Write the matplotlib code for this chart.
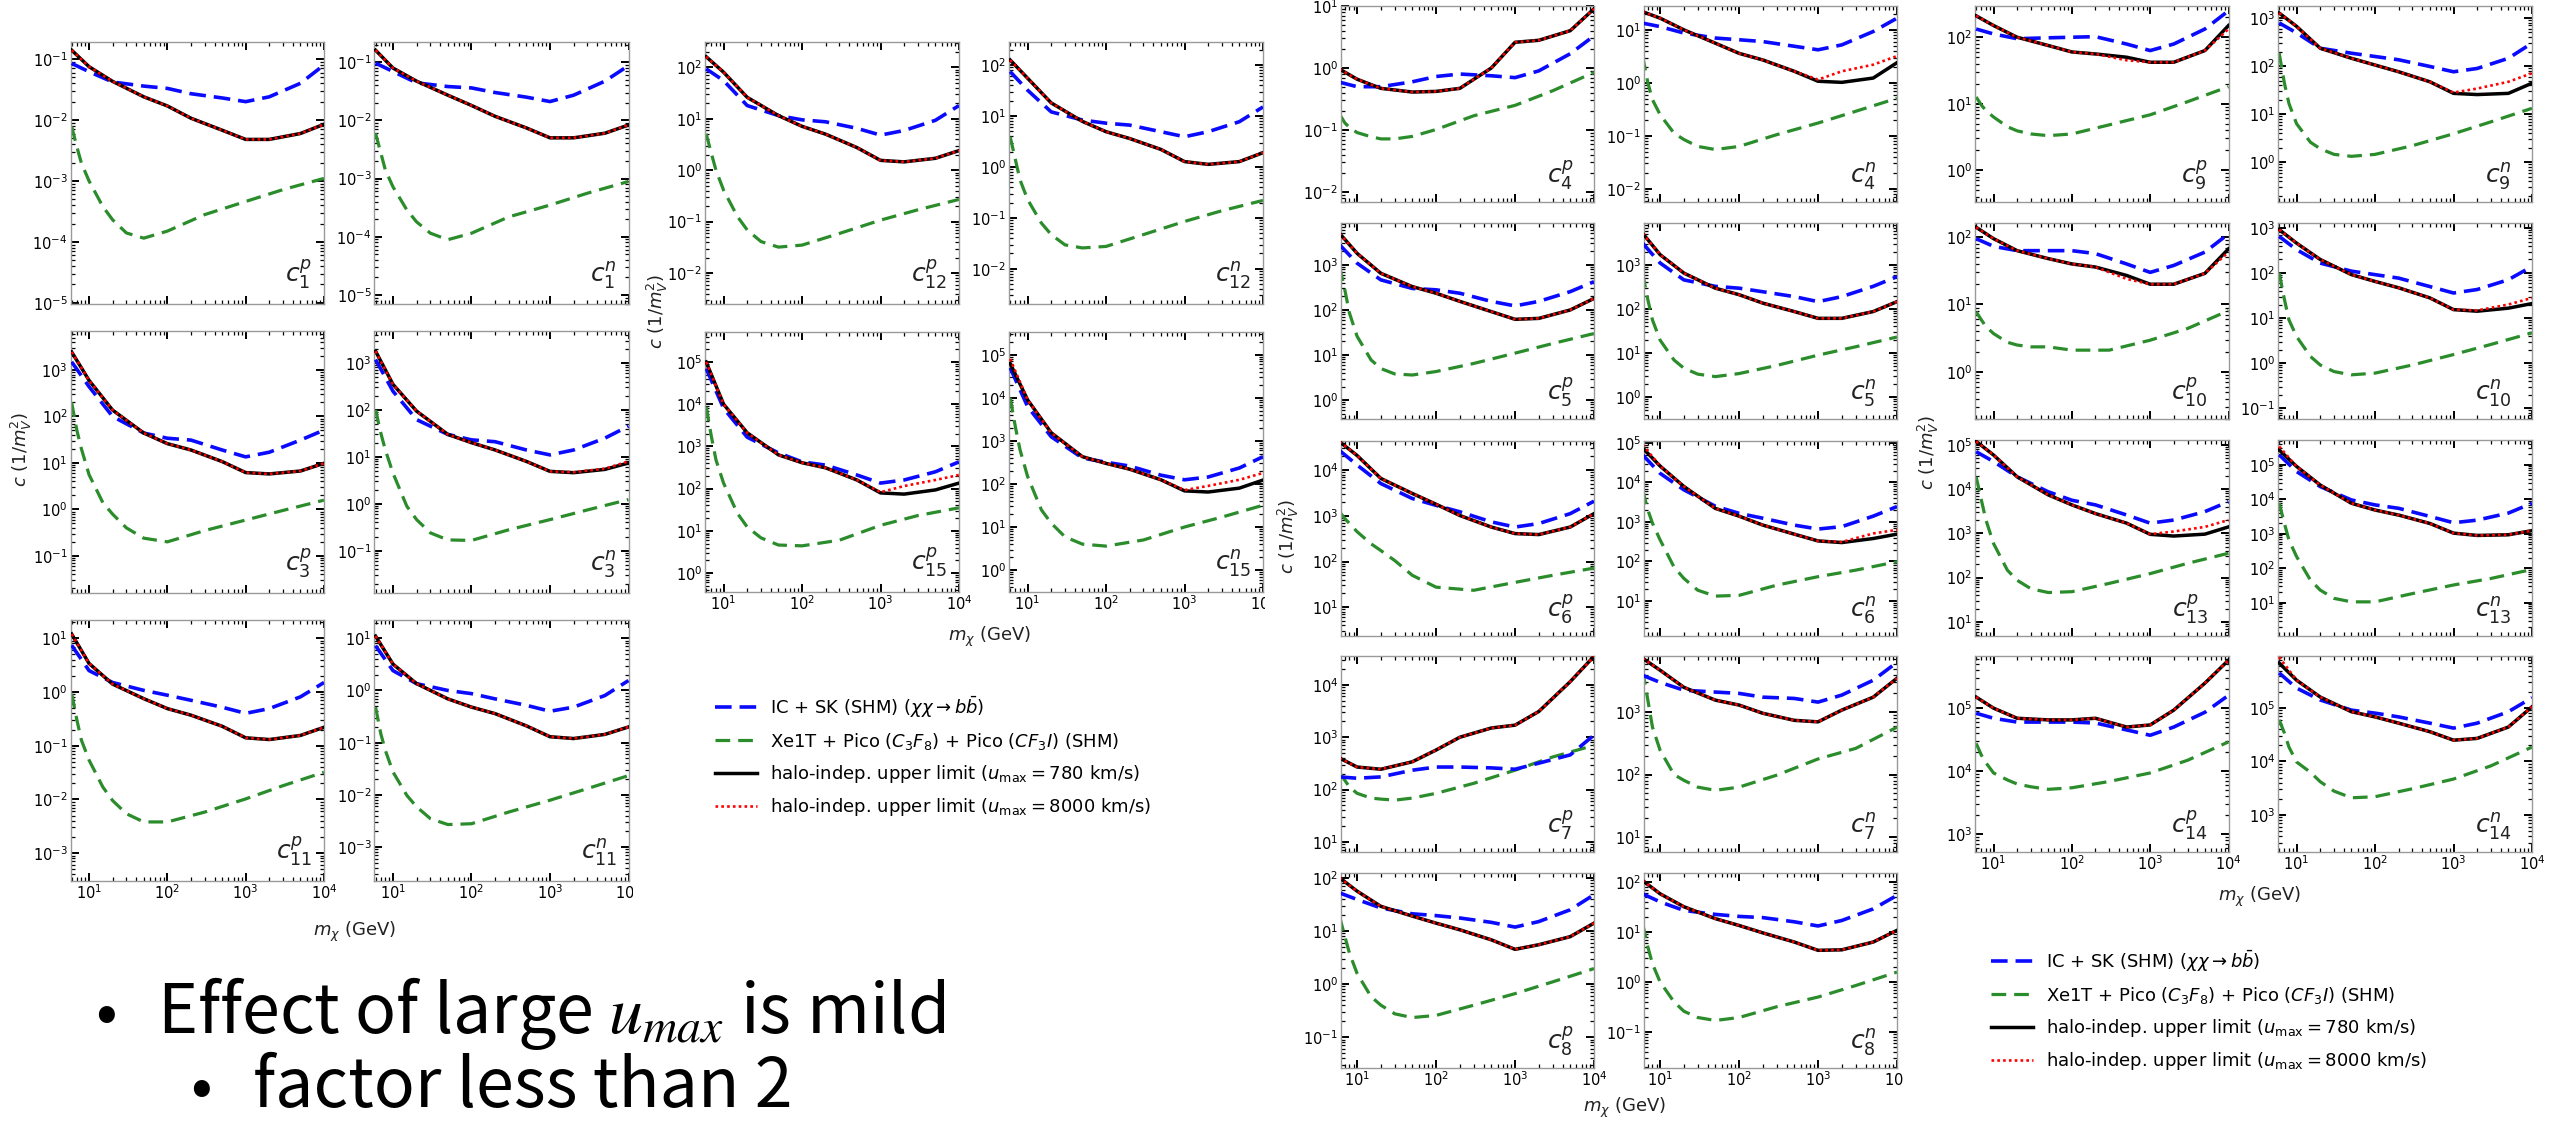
import numpy as np
import matplotlib
matplotlib.use("Agg")
import matplotlib.pyplot as plt
from matplotlib.ticker import LogLocator, NullFormatter, LogFormatterSciNotation
from matplotlib.patches import Rectangle

# ---------------- data ----------------
MASS = [6, 10, 20, 50, 100, 200, 500, 1000, 2000, 5000, 10000]
MASS_XE = [6, 7, 8, 10, 15, 20, 30, 50, 100, 300, 1000, 3000, 10000]

c1p_ic = [0.085, 0.062, 0.042, 0.036, 0.033, 0.027, 0.023, 0.020, 0.024, 0.040, 0.080]
c1p_xe = [7.8e-3, 3.6e-3, 1.95e-3, 1.0e-3, 3.8e-4, 2.3e-4, 1.4e-4, 1.15e-4, 1.5e-4, 2.8e-4, 4.6e-4, 7.2e-4, 1.1e-3]
c1p_hi = [0.14, 0.075, 0.043, 0.024, 0.017, 0.0107, 0.0068, 0.0048, 0.0048, 0.006, 0.0085]
c1p_hi8 = c1p_hi

c1n_ic = [0.096, 0.069, 0.044, 0.038, 0.036, 0.030, 0.025, 0.021, 0.027, 0.047, 0.087]
c1n_xe = [6.0e-3, 2.75e-3, 1.4e-3, 7.2e-4, 2.9e-4, 1.8e-4, 1.15e-4, 8.9e-5, 1.15e-4, 2.2e-4, 3.5e-4, 5.6e-4, 8.9e-4]
c1n_hi = [0.16, 0.079, 0.047, 0.027, 0.018, 0.0117, 0.0074, 0.005, 0.005, 0.006, 0.0083]
c1n_hi8 = c1n_hi

c3p_ic = [1500, 440, 100, 44, 34, 31, 19, 13.5, 17, 31, 51]
c3p_xe = [200, 50, 20, 5.6, 1.4, 0.79, 0.4, 0.24, 0.2, 0.35, 0.59, 0.95, 1.58]
c3p_hi = [2450, 600, 137, 44, 26, 19, 10.7, 6.2, 5.8, 6.7, 9.8]
c3p_hi8 = c3p_hi

c3n_ic = [1180, 250, 62, 30, 23, 21, 14, 11, 14, 25, 45]
c3n_xe = [100, 32, 14, 4.5, 0.89, 0.46, 0.24, 0.17, 0.166, 0.28, 0.46, 0.74, 1.23]
c3n_hi = [1780, 350, 94, 30, 20, 14, 8, 4.9, 4.6, 5.4, 7.4]
c3n_hi8 = [1780, 350, 94, 30, 20, 14, 8, 4.9, 4.7, 5.6, 8.0]

c11p_ic = [7.4, 2.5, 1.5, 1.07, 0.87, 0.7, 0.52, 0.4, 0.49, 0.81, 1.5]
c11p_xe = [0.93, 0.3, 0.126, 0.054, 0.017, 9.5e-3, 5.4e-3, 3.8e-3, 3.8e-3, 5.8e-3, 0.0102, 0.018, 0.032]
c11p_hi = [12, 3.4, 1.4, 0.75, 0.49, 0.37, 0.23, 0.14, 0.13, 0.155, 0.22]
c11p_hi8 = c11p_hi

c11n_ic = [7.2, 2.4, 1.35, 1.0, 0.87, 0.69, 0.52, 0.4, 0.48, 0.8, 1.55]
c11n_xe = [0.48, 0.148, 0.071, 0.0275, 9.8e-3, 5.9e-3, 3.5e-3, 2.7e-3, 2.8e-3, 4.7e-3, 7.9e-3, 0.0132, 0.0234]
c11n_hi = [11, 3.2, 1.35, 0.69, 0.48, 0.36, 0.21, 0.13, 0.12, 0.144, 0.2]
c11n_hi8 = c11n_hi

c12p_ic = [93, 55, 18, 11.5, 9.5, 8.7, 6.5, 4.8, 5.9, 9.3, 18]
c12p_xe = [5.1, 2.1, 1.0, 0.41, 0.126, 0.069, 0.041, 0.032, 0.035, 0.059, 0.107, 0.17, 0.27]
c12p_hi = [160, 80, 26, 11.5, 7.1, 5.0, 2.75, 1.55, 1.45, 1.7, 2.4]
c12p_hi8 = c12p_hi

c12n_ic = [74, 32, 12, 8.3, 7.2, 6.6, 4.9, 3.9, 4.9, 7.7, 15]
c12n_xe = [3.9, 1.38, 0.56, 0.23, 0.079, 0.047, 0.0295, 0.0257, 0.0275, 0.047, 0.085, 0.138, 0.22]
c12n_hi = [125, 55, 18, 7.8, 4.9, 3.6, 2.2, 1.27, 1.12, 1.27, 1.9]
c12n_hi8 = c12n_hi

c15p_ic = [70000, 8000, 1650, 700, 430, 360, 210, 135, 160, 250, 430]
c15p_xe = [8700, 1700, 480, 135, 26, 12.3, 6.8, 4.6, 4.4, 6.0, 13.5, 23, 35]
c15p_hi = [100000, 10000, 2100, 630, 410, 310, 160, 79, 74, 93, 135]
c15p_hi8 = [100000, 10000, 2100, 630, 410, 310, 160, 82, 115, 160, 210]

c15n_ic = [50000, 6300, 1250, 400, 320, 260, 160, 125, 145, 235, 430]
c15n_xe = [10000, 2100, 630, 150, 25, 12.3, 5.9, 4.0, 3.6, 5.0, 10, 17, 32]
c15n_hi = [63000, 9000, 1550, 430, 300, 220, 125, 69, 65, 80, 123]
c15n_hi8 = [80000, 9000, 1550, 430, 300, 220, 125, 72, 90, 125, 180]

c4p_ic = [0.59, 0.5, 0.5, 0.6, 0.73, 0.8, 0.75, 0.7, 0.9, 1.7, 3.3]
c4p_xe = [0.18, 0.13, 0.11, 0.091, 0.078, 0.072, 0.072, 0.079, 0.102, 0.17, 0.25, 0.43, 0.85]
c4p_hi = [0.96, 0.66, 0.47, 0.41, 0.42, 0.47, 1.0, 2.6, 2.8, 4.0, 9.0]
c4p_hi8 = c4p_hi

c4n_ic = [13.4, 11.5, 8.7, 7.0, 6.5, 6.0, 4.9, 4.2, 5.2, 9.3, 16.6]
c4n_xe = [3.2, 1.0, 0.48, 0.25, 0.112, 0.085, 0.063, 0.055, 0.063, 0.105, 0.174, 0.29, 0.51]
c4n_hi = [22, 16.6, 10, 5.6, 3.6, 2.7, 1.65, 1.07, 1.02, 1.23, 2.4]
c4n_hi8 = [22, 16.6, 10, 5.6, 3.6, 2.7, 1.65, 1.15, 1.65, 2.2, 3.2]

c5p_ic = [2800, 1090, 465, 300, 280, 235, 155, 123, 155, 255, 425]
c5p_xe = [910, 275, 85, 26, 7.8, 5.0, 3.8, 3.6, 4.3, 6.5, 11, 18, 30]
c5p_hi = [5000, 1800, 650, 330, 235, 155, 92, 62, 65, 100, 180]
c5p_hi8 = c5p_hi

c5n_ic = [3100, 1100, 455, 325, 295, 245, 190, 146, 190, 325, 540]
c5n_xe = [650, 160, 56, 19.5, 6.9, 4.5, 3.3, 2.9, 3.4, 5.2, 8.9, 13.8, 23]
c5n_hi = [5200, 1700, 650, 295, 210, 135, 87, 61, 61, 87, 146]
c5n_hi8 = c5n_hi

c6p_ic = [27000, 13000, 5100, 2400, 1700, 1230, 740, 570, 680, 1120, 2100]
c6p_xe = [1230, 870, 680, 450, 245, 174, 105, 50, 27.5, 23.5, 35, 50, 72]
c6p_hi = [42000, 21000, 6600, 3100, 1800, 1020, 570, 410, 390, 570, 1120]
c6p_hi8 = c6p_hi

c6n_ic = [50000, 17000, 6500, 2500, 1650, 1240, 830, 660, 760, 1400, 2450]
c6n_xe = [6500, 2000, 930, 350, 72, 37, 18.6, 13.2, 13.8, 25, 41, 60, 98]
c6n_hi = [75000, 26000, 7900, 2200, 1400, 830, 490, 330, 300, 380, 490]
c6n_hi8 = [90000, 26000, 7900, 2200, 1400, 830, 490, 330, 310, 510, 630]

c7p_ic = [175, 165, 175, 235, 270, 270, 260, 245, 320, 460, 1100]
c7p_xe = [210, 150, 112, 85, 69, 66, 63, 69, 85, 132, 235, 420, 700]
c7p_hi = [400, 270, 245, 340, 570, 1000, 1500, 1700, 3100, 11500, 35000]
c7p_hi8 = c7p_hi

c7n_ic = [3900, 3000, 2250, 2100, 2000, 1740, 1660, 1450, 1880, 3250, 6300]
c7n_xe = [4700, 1550, 575, 245, 100, 81, 63, 56, 63, 98, 178, 263, 575]
c7n_hi = [7300, 4700, 2500, 1560, 1300, 960, 740, 700, 1080, 1740, 3500]
c7n_hi8 = c7n_hi

c8p_ic = [52, 39, 27, 21, 19.4, 17.5, 14.5, 11.8, 15, 25, 48]
c8p_xe = [18.6, 7.8, 3.8, 1.58, 0.58, 0.4, 0.275, 0.234, 0.257, 0.4, 0.66, 1.1, 1.95]
c8p_hi = [100, 56, 29, 19, 14, 10.5, 6.8, 4.5, 5.5, 7.8, 14]
c8p_hi8 = c8p_hi

c8n_ic = [58, 40, 27, 22.5, 20.5, 19.4, 16, 13.2, 17, 29, 54]
c8n_xe = [14.8, 5.0, 2.3, 1.0, 0.4, 0.26, 0.195, 0.17, 0.195, 0.32, 0.5, 0.85, 1.58]
c8n_hi = [107, 58, 32, 18.5, 13.5, 9.6, 6.3, 4.3, 4.4, 6.3, 10.8]
c8n_hi8 = c8n_hi

c9p_ic = [133, 112, 95, 98, 100, 102, 79, 63, 79, 133, 250]
c9p_xe = [12.6, 9.5, 7.9, 6.3, 4.5, 3.9, 3.5, 3.3, 3.5, 4.8, 6.8, 10.7, 18]
c9p_hi = [210, 150, 100, 75, 60, 56, 50, 42, 42, 63, 150]
c9p_hi8 = [210, 150, 100, 75, 60, 56, 45, 42, 42, 63, 133]

c9n_ic = [790, 490, 235, 185, 158, 135, 98, 76, 89, 145, 300]
c9n_xe = [186, 44, 16.6, 6.3, 2.6, 1.9, 1.45, 1.32, 1.45, 2.2, 3.9, 6.9, 13.2]
c9n_hi = [1270, 670, 235, 145, 105, 76, 47, 27, 25.5, 27, 44]
c9n_hi8 = [1270, 670, 235, 145, 105, 76, 47, 28, 34, 47, 71]

c10p_ic = [95, 73, 63, 63, 63, 57, 40, 30, 38, 60, 112]
c10p_xe = [7.8, 5.9, 4.7, 3.7, 2.75, 2.5, 2.35, 2.35, 2.1, 2.1, 2.95, 4.4, 8.1]
c10p_hi = [140, 95, 63, 48, 40, 36, 27, 20, 20, 29, 67]
c10p_hi8 = [140, 95, 63, 48, 40, 36, 24, 20, 20, 29, 60]

c10n_ic = [650, 330, 166, 110, 92, 77, 50, 36, 43, 71, 140]
c10n_xe = [100, 26, 9.1, 3.9, 1.41, 0.91, 0.65, 0.55, 0.6, 0.91, 1.55, 2.6, 4.7]
c10n_hi = [920, 460, 200, 92, 65, 47, 28, 15.4, 14.2, 16.6, 21]
c10n_hi8 = [920, 460, 200, 92, 65, 47, 28, 15.4, 14.8, 20, 28]

c13p_ic = [70000, 42000, 19000, 8700, 5600, 4400, 2600, 1700, 2000, 3100, 5200]
c13p_xe = [19000, 5600, 2000, 590, 148, 87, 56, 46, 48, 74, 123, 210, 355]
c13p_hi = [120000, 59000, 19000, 7400, 4400, 2800, 1700, 950, 870, 960, 1400]
c13p_hi8 = [120000, 59000, 19000, 7400, 4400, 2800, 1700, 960, 1100, 1400, 2000]

c13n_ic = [195000, 64000, 23500, 9600, 6900, 5500, 3200, 2100, 2500, 4000, 7700]
c13n_xe = [7800, 2000, 660, 220, 46, 23.5, 13.5, 10.7, 10.7, 18.6, 33, 51, 93]
c13n_hi = [270000, 90000, 26000, 7700, 4900, 3500, 2000, 1050, 900, 940, 1240]
c13n_hi8 = [340000, 90000, 26000, 7700, 4900, 3500, 2000, 1050, 900, 940, 1240]

c14p_ic = [83000, 69000, 60000, 60000, 60000, 58000, 45000, 37000, 50000, 86000, 160000]
c14p_xe = [27500, 17800, 13500, 9300, 7200, 6200, 5600, 5100, 5400, 6800, 9300, 14800, 29000]
c14p_hi = [150000, 100000, 69000, 65000, 65000, 69000, 50000, 54000, 93000, 250000, 580000]
c14p_hi8 = c14p_hi

c14n_ic = [450000, 235000, 141000, 91000, 80000, 68000, 52000, 42000, 52000, 85000, 155000]
c14n_xe = [60000, 34000, 18600, 9800, 6300, 4200, 2800, 2100, 2200, 3100, 4700, 8300, 18600]
c14n_hi = [690000, 330000, 160000, 85000, 68000, 52000, 36000, 25000, 27000, 44000, 105000]
c14n_hi8 = [890000, 330000, 160000, 85000, 68000, 52000, 36000, 25000, 27000, 44000, 105000]

# y-axis ranges (decade exponents)
YLIM = {
    "c1p": (-5.02, -0.72), "c1n": (-5.155, -0.655),
    "c3p": (-1.8, 3.84), "c3n": (-1.9, 3.68),
    "c11p": (-3.52, 1.34), "c11n": (-3.65, 1.35),
    "c12p": (-2.6, 2.49), "c12n": (-2.69, 2.45),
    "c15p": (-0.45, 5.71), "c15n": (-0.51, 5.53),
    "c4p": (-2.16, 1.0), "c4n": (-2.25, 1.45),
    "c5p": (-0.42, 3.93), "c5n": (-0.5, 3.95),
    "c6p": (0.37, 4.64), "c6n": (0.11, 5.05),
    "c7p": (0.81, 4.55), "c7n": (0.76, 3.9),
    "c8p": (-1.58, 2.09), "c8n": (-1.72, 2.18),
    "c9p": (-0.48, 2.47), "c9n": (-0.83, 3.25),
    "c10p": (-0.7, 2.21), "c10n": (-1.24, 3.11),
    "c13p": (0.68, 5.11), "c13n": (0.04, 5.72),
    "c14p": (2.71, 5.83), "c14n": (2.31, 5.97),
}

LEGEND_LABELS = [
    r"IC + SK (SHM) $(\chi\chi \rightarrow b\bar{b})$",
    r"Xe1T + Pico $(C_3F_8)$ + Pico $(CF_3I)$ (SHM)",
    r"halo-indep. upper limit ($u_{\rm max} = 780$ km/s)",
    r"halo-indep. upper limit ($u_{\rm max} = 8000$ km/s)",
]

SERIES = {}
for _n in ["c1p", "c1n", "c3p", "c3n", "c11p", "c11n", "c12p", "c12n", "c15p", "c15n",
           "c4p", "c4n", "c5p", "c5n", "c6p", "c6n", "c7p", "c7n", "c8p", "c8n",
           "c9p", "c9n", "c10p", "c10n", "c13p", "c13n", "c14p", "c14n"]:
    SERIES[_n] = (globals()[_n + "_ic"], globals()[_n + "_xe"],
                  globals()[_n + "_hi"], globals()[_n + "_hi8"])

# ---------------- layout ----------------
W, H = 2552, 1121
fig = plt.figure(figsize=(W / 100, H / 100), dpi=100)
fig.patch.set_facecolor("white")

GROUPS = [
    dict(names=[["c1p", "c1n"], ["c3p", "c3n"], ["c11p", "c11n"]],
         cols=[(70.5, 324), (374.4, 628.5)],
         rows=[(42, 304), (331, 593), (620, 881)], xmin=5.8, labx=0.955,
         ylab=(21, 450), xlab=(355, 932), cut=633),
    dict(names=[["c12p", "c12n"], ["c15p", "c15n"]],
         cols=[(705, 959), (1009, 1263)],
         rows=[(42, 304), (332, 592)], xmin=5.8, labx=0.955,
         ylab=(657, 312), xlab=(990, 637), cut=1265),
    dict(names=[["c4p", "c4n"], ["c5p", "c5n"], ["c6p", "c6n"], ["c7p", "c7n"], ["c8p", "c8n"]],
         cols=[(1341, 1594), (1644, 1897)],
         rows=[(6, 202), (223, 419), (441, 636), (656, 852), (873, 1068)], xmin=6.25, labx=0.92,
         ylab=(1288, 537), xlab=(1625, 1108), cut=1903),
    dict(names=[["c9p", "c9n"], ["c10p", "c10n"], ["c13p", "c13n"], ["c14p", "c14n"]],
         cols=[(1975, 2228.5), (2278, 2532)],
         rows=[(6, 202), (223, 419), (440, 636), (656, 852)], xmin=5.8, labx=0.92,
         ylab=(1928, 453), xlab=(2260, 897), cut=None),
]

BLUE = "#0a0aff"
GREEN = "#2a8c2a"
handles = None

for g in GROUPS:
    nrows = len(g["rows"])
    for r, (y0, y1) in enumerate(g["rows"]):
        for c, (x0, x1) in enumerate(g["cols"]):
            name = g["names"][r][c]
            ax = fig.add_axes([x0 / W, 1 - y1 / H, (x1 - x0) / W, (y1 - y0) / H])
            ic, xe, hi, hi8 = SERIES[name]
            l1, = ax.plot(MASS, ic, color=BLUE, lw=2.6, ls=(0, (4.6, 2.2)), zorder=3)
            l2, = ax.plot(MASS_XE, xe, color=GREEN, lw=2.3, ls=(0, (4.6, 2.5)), zorder=2)
            l3, = ax.plot(MASS, hi, color="black", lw=2.5, zorder=4)
            l4, = ax.plot(MASS, hi8, color="red", lw=1.9, ls=(0, (1, 1.2)), zorder=5)
            if handles is None:
                handles = [l1, l2, l3, l4]
            ax.set_xscale("log")
            ax.set_yscale("log")
            ax.set_xlim(g["xmin"], 1e4)
            lo, hi_ = YLIM[name]
            ax.set_ylim(10 ** lo, 10 ** hi_)
            for sp in ax.spines.values():
                sp.set_color("#9a9a9a")
                sp.set_linewidth(1.0)
            for axis in (ax.xaxis, ax.yaxis):
                axis.set_major_locator(LogLocator(base=10, numticks=30))
                axis.set_minor_locator(LogLocator(base=10, subs=np.arange(2, 10), numticks=30))
                axis.set_minor_formatter(NullFormatter())
            ax.yaxis.set_major_formatter(LogFormatterSciNotation())
            ax.tick_params(which="both", direction="in", top=True, right=True, colors="black",
                           labelsize=10.5, pad=2)
            ax.tick_params(which="major", length=6, width=1.4)
            ax.tick_params(which="minor", length=3, width=0.9)
            if r != nrows - 1:
                ax.tick_params(labelbottom=False)
            sub = name[1:-1]
            sup = name[-1]
            ax.text(g["labx"], 0.05, r"$c_{%s}^{%s}$" % (sub, sup), transform=ax.transAxes,
                    ha="right", va="bottom", fontsize=18, color="#222222")
    # group axis labels
    fig.text(g["ylab"][0] / W, 1 - g["ylab"][1] / H, r"$c$ (1/$m_V^2$)", rotation=90,
             ha="center", va="center", fontsize=13, color="#222222")
    fig.text(g["xlab"][0] / W, 1 - g["xlab"][1] / H, r"$m_\chi$ (GeV)",
             ha="center", va="center", fontsize=13, color="#222222")
    # the source image was cropped just right of these groups' last tick label
    if g["cut"] is not None:
        yb = g["rows"][-1][1]
        fig.add_artist(Rectangle((g["cut"] / W, 1 - (yb + 30) / H), 14 / W, 28 / H,
                                 transform=fig.transFigure, facecolor="white",
                                 edgecolor="none", zorder=10))

# legends
for (lx, ly) in [(715, 756), (1991, 1010)]:
    fig.legend(handles, LEGEND_LABELS, loc="center left",
               bbox_to_anchor=(lx / W, 1 - ly / H), frameon=False, fontsize=13,
               handlelength=2.3, handletextpad=0.75, labelspacing=0.62,
               borderpad=0, borderaxespad=0)

# bullet text
BF = ["Noto Sans CJK KR", "DejaVu Sans"]
fig.text(95 / W, 1 - 1033 / H, "\u2022", fontsize=46, family=BF, va="baseline", ha="left")
fig.text(157 / W, 1 - 1033 / H, r"Effect of large $u_{max}$ is mild", fontsize=49, family=BF,
         va="baseline", ha="left", math_fontfamily="stix")
fig.text(190 / W, 1 - 1107 / H, "\u2022", fontsize=46, family=BF, va="baseline", ha="left")
fig.text(253 / W, 1 - 1107 / H, "factor less than 2", fontsize=49, family=BF,
         va="baseline", ha="left")

fig.savefig("out.png", dpi=100, facecolor="white")
